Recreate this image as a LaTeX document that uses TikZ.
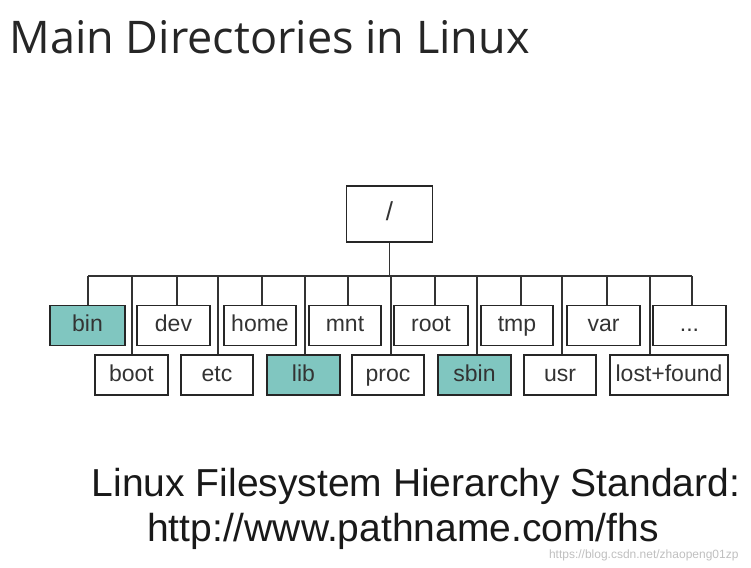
\documentclass[tikz,border=0pt]{standalone}
\usepackage{fontspec}
\setmainfont{Liberation Sans}
\newfontfamily\titlefont{Open Sans}
\definecolor{teal1}{RGB}{128,198,192}
\begin{document}
\begin{tikzpicture}[x=1pt,y=-1pt,
  box/.style={draw=black!85,line width=1.4pt,minimum height=40pt,inner sep=0pt,text height=16pt,text depth=4pt,font=\fontsize{23}{23}\selectfont,text=black!80},
  hl/.style={fill=teal1},
  ln/.style={draw=black!80,line width=1.4pt}]
\useasboundingbox (0,0) rectangle (751,567);
\node[anchor=west,font=\titlefont\fontsize{45}{45}\selectfont,text=black!85] (title) at (6,37) {Main Directories in Linux};
\node[box,minimum width=86pt,minimum height=56pt,font=\fontsize{26}{26}\selectfont] (r) at (389.5,214) {/};
% top row
\node[box,hl,minimum width=75pt] (bin) at (87.5,325.5) {bin};
\node[box,minimum width=73pt] (dev) at (173.5,325.5) {dev};
\node[box,minimum width=72pt] (home) at (260,325.5) {home};
\node[box,minimum width=72pt] (mnt) at (345,325.5) {mnt};
\node[box,minimum width=74pt] (root) at (431,325.5) {root};
\node[box,minimum width=72pt] (tmp) at (517,325.5) {tmp};
\node[box,minimum width=73pt] (var) at (603.5,325.5) {var};
\node[box,minimum width=73pt] (etc2) at (689.5,325.5) {...};
% bottom row
\node[box,minimum width=73pt] (boot) at (131.5,375) {boot};
\node[box,minimum width=72pt] (etc) at (217,375) {etc};
\node[box,hl,minimum width=73pt] (lib) at (303.5,375) {lib};
\node[box,minimum width=72pt] (proc) at (388,375) {proc};
\node[box,hl,minimum width=73pt] (sbin) at (474.5,375) {sbin};
\node[box,minimum width=72pt] (usr) at (560,375) {usr};
\node[box,minimum width=118pt] (lost) at (669,375) {lost+found};
\coordinate (busL) at (88,276);
\coordinate (busR) at (692,276);
\draw[ln] (busL) -- (busR);
\draw[ln] (r.south) -- (r.south |- busR);
\foreach \n/\x in {bin/88,dev/177,home/262,mnt/348,root/435,tmp/521,var/607,etc2/692}
  \draw[ln] (\x,276) -- (\x,0 |- \n.north);
\foreach \n/\x in {boot/132,etc/218,lib/305,proc/391,sbin/477,usr/562,lost/650}
  \draw[ln] (\x,276) -- (\x,0 |- \n.north);
\node[font=\fontsize{39}{39}\selectfont,text=black!90,anchor=base] (t1) at (416,496) {Linux Filesystem Hierarchy Standard:};
\node[font=\fontsize{39}{39}\selectfont,text=black!90,anchor=base] (t2) at (403,541) {http://www.pathname.com/fhs};
\node[font=\fontsize{12}{12}\selectfont,text=black!25,anchor=base east] (wm) at (742,558) {https://blog.csdn.net/zhaopeng01zp};
\end{tikzpicture}
\end{document}
